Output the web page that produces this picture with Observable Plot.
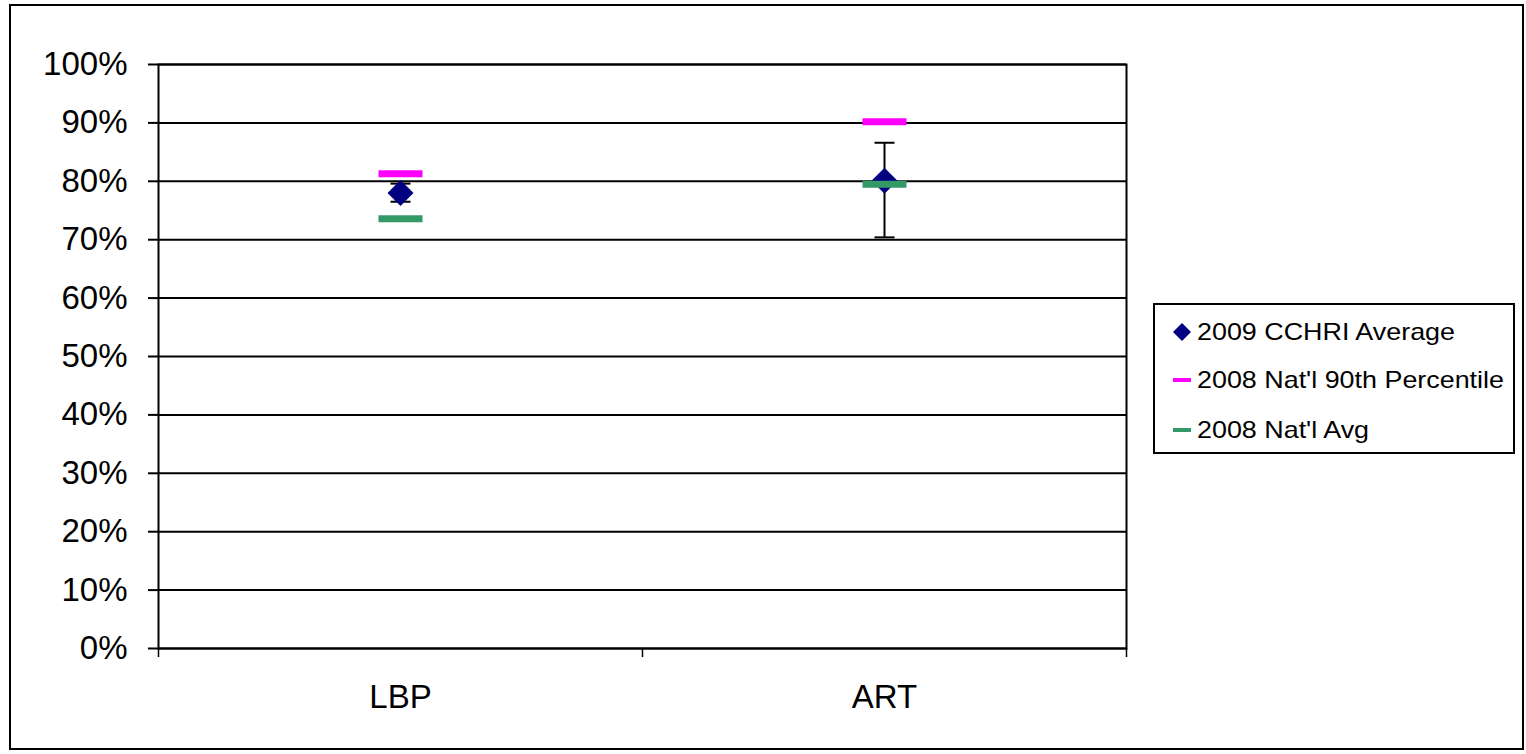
<!DOCTYPE html>
<html>
<head>
<meta charset="utf-8">
<script src="https://cdn.jsdelivr.net/npm/d3@7"></script>
<script src="https://cdn.jsdelivr.net/npm/@observablehq/plot@0.6"></script>
<style>
  html, body { margin: 0; padding: 0; background: #fff; }
  #wrap { position: relative; width: 1526px; height: 754px; font-family: "Liberation Sans", Arial, sans-serif; }
  #wrap svg.plot { position: absolute; left: 0; top: 0; }
  #border { position: absolute; left: 9px; top: 4px; width: 1515px; height: 746px; border: 2px solid #000; box-sizing: border-box; pointer-events: none; }
  #legend { position: absolute; left: 1153px; top: 303px; width: 362px; height: 151px; border: 2px solid #000; box-sizing: border-box; background: #fff; }
  .row { position: absolute; left: 0; height: 30px; display: flex; align-items: center; }
  .row svg { position: absolute; left: 17px; top: 5px; }
  .row span { position: absolute; left: 42px; white-space: nowrap; font-size: 24px; color: #000; transform-origin: left center; transform: scaleX(1.12); }
</style>
</head>
<body>
<div id="wrap"></div>
<script>
// ---- data ----
const categories = ["LBP", "ART"];
const cchriAvg   = [0.780, 0.801];   // 2009 CCHRI Average
const errLow     = [0.765, 0.704];
const errHigh    = [0.796, 0.866];
const nat90      = [0.813, 0.902];   // 2008 Nat'l 90th Percentile
const natAvg     = [0.736, 0.795];   // 2008 Nat'l Avg
const yTicks     = [0, 0.1, 0.2, 0.3, 0.4, 0.5, 0.6, 0.7, 0.8, 0.9, 1.0];
const seriesNames = ["2009 CCHRI Average", "2008 Nat'l 90th Percentile", "2008 Nat'l Avg"];
const seriesColors = ["#000080", "#FF00FF", "#339966"];

const rows = categories.map((c, i) => ({
  cat: c, pos: i + 0.5,
  avg: cchriAvg[i], lo: errLow[i], hi: errHigh[i], p90: nat90[i], nat: natAvg[i]
}));
const catPos = rows.map(d => d.pos);
const boundaries = d3.range(categories.length + 1);

const dash = { draw(ctx) { ctx.rect(-22, -3.5, 44, 7); } };
const cap  = { draw(ctx) { ctx.rect(-10, -1, 20, 2); } };

const chart = Plot.plot({
  width: 1526,
  height: 754,
  marginLeft: 158,
  marginRight: 400,
  marginTop: 64,
  marginBottom: 106,
  style: { fontFamily: "'Liberation Sans', Arial, sans-serif", fontSize: "33px", background: "transparent", color: "#000" },
  x: { domain: [0, categories.length] },
  y: { domain: [0, 1] },
  marks: [
    Plot.gridY(yTicks, { stroke: "#000", strokeOpacity: 1, strokeWidth: 2 }),
    Plot.frame({ stroke: "#000", strokeWidth: 2 }),
    Plot.axisY({ ticks: yTicks, tickFormat: d3.format(".0%"), tickSize: 10, tickPadding: 21, label: null, strokeWidth: 2 }),
    Plot.axisX({ ticks: boundaries, tickFormat: () => "", tickSize: 9, label: null, strokeWidth: 1.5 }),
    Plot.axisX({ ticks: catPos, tickFormat: p => categories[Math.floor(p)], tickSize: 0, tickPadding: 36, label: null }),
    // error bars
    Plot.ruleX(rows, { x: "pos", y1: "lo", y2: "hi", stroke: "#000", strokeWidth: 2 }),
    Plot.dot(rows, { x: "pos", y: "lo", symbol: cap, fill: "#000", stroke: null }),
    Plot.dot(rows, { x: "pos", y: "hi", symbol: cap, fill: "#000", stroke: null }),
    // series
    Plot.dot(rows, { x: "pos", y: "avg", symbol: "diamond2", r: 11.7, fill: seriesColors[0], stroke: null }),
    Plot.dot(rows, { x: "pos", y: "p90", symbol: dash, fill: seriesColors[1], stroke: null }),
    Plot.dot(rows, { x: "pos", y: "nat", symbol: dash, fill: seriesColors[2], stroke: null })
  ]
});
chart.classList.add("plot");

const wrap = document.getElementById("wrap");
wrap.appendChild(chart);

const border = document.createElement("div");
border.id = "border";
wrap.appendChild(border);

// legend
const legend = document.createElement("div");
legend.id = "legend";
const rowTops = [12, 60, 110];
seriesNames.forEach((name, i) => {
  const r = document.createElement("div");
  r.className = "row";
  r.style.top = rowTops[i] + "px";
  let icon;
  if (i === 0) {
    icon = `<svg width="20" height="20" viewBox="-10 -10 20 20"><path d="M0,-9L9,0L0,9L-9,0Z" fill="${seriesColors[i]}"/></svg>`;
  } else {
    icon = `<svg width="20" height="20" viewBox="-10 -10 20 20"><rect x="-9" y="-2" width="18" height="4" fill="${seriesColors[i]}"/></svg>`;
  }
  r.innerHTML = icon + `<span>${name}</span>`;
  r.querySelector("span").style.top = "0px";
  r.querySelector("span").style.lineHeight = "30px";
  legend.appendChild(r);
});
wrap.appendChild(legend);
</script>
</body>
</html>
